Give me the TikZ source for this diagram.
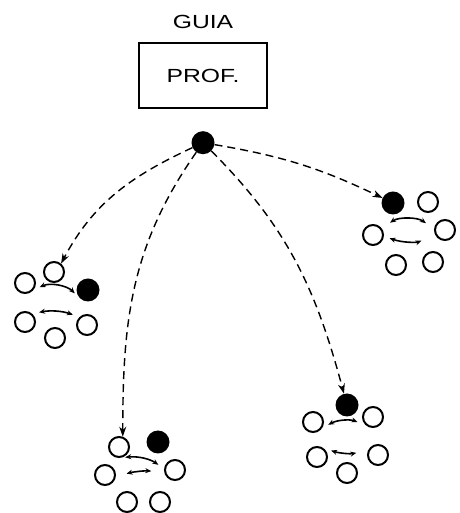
\documentclass[tikz,border=0pt]{standalone}
\usepackage{fontspec}
\newfontfamily\signfont[FakeStretch=1.3]{Liberation Sans}
\usepackage{tikz}
\usetikzlibrary{arrows.meta, positioning}

\begin{document}
\begin{tikzpicture}[
  x=1pt, y=1pt,
  board/.style={rectangle, draw, line width=2pt, minimum width=128pt, minimum height=65pt, font=\signfont\fontsize{19}{21}\selectfont},
  caption/.style={font=\signfont\fontsize{19}{21}\selectfont},
  pupil/.style={circle, draw, line width=2pt, minimum size=20pt, inner sep=0pt},
  leader/.style={circle, fill=black, minimum size=23pt, inner sep=0pt},
  link/.style={-{Stealth[length=10pt, width=7pt]}, line width=1.4pt, dash pattern=on 8pt off 5pt},
  talk/.style={{Stealth[length=6pt, width=5pt]}-{Stealth[length=6pt, width=5pt]}, line width=1.6pt}
]
  \useasboundingbox (0,0) rectangle (459,513);

  \node[board] (prof) at (203,437.5) {PROF.};
  \node[caption, above=10pt of prof] (guia) {GUIA};
  \node[leader, below=22pt of prof] (c) {};

  \node[leader] (a0) at (393,310) {};
  \node[pupil] (a1) at (428,311) {};
  \node[pupil] (a2) at (373,278) {};
  \node[pupil] (a3) at (445,283) {};
  \node[pupil] (a4) at (396,248) {};
  \node[pupil] (a5) at (433,251) {};

  \node[leader] (l0) at (88,223) {};
  \node[pupil] (l1) at (54,241) {};
  \node[pupil] (l2) at (25,230) {};
  \node[pupil] (l3) at (25,191) {};
  \node[pupil] (l4) at (87,188) {};
  \node[pupil] (l5) at (55,175) {};

  \node[leader] (m0) at (158,71) {};
  \node[pupil] (m1) at (119,66) {};
  \node[pupil] (m2) at (105,38) {};
  \node[pupil] (m3) at (175,43) {};
  \node[pupil] (m4) at (127,11) {};
  \node[pupil] (m5) at (160,11) {};

  \node[leader] (r0) at (347,108) {};
  \node[pupil] (r1) at (313,91) {};
  \node[pupil] (r2) at (373,96) {};
  \node[pupil] (r3) at (317,56) {};
  \node[pupil] (r4) at (378,58) {};
  \node[pupil] (r5) at (347,40) {};

  \draw[link] (c) to[bend left=8] (a0);
  \draw[link] (c) to[out=205, in=62] (l1.50);
  \draw[link] (c) to[out=235, in=90] (m1.70);
  \draw[link] (c) to[out=-45, in=105] (r0);

  \draw[talk, shorten <=10pt, shorten >=10pt] (a2.37) to[bend left=35] (a3.175);
  \draw[talk, shorten <=6pt, shorten >=15pt] (a2.-7) to[bend right=20] (a3.209);
  \draw[talk, shorten <=7pt, shorten >=7pt] (l2.-41) to[bend left=35] (l0.225);
  \draw[talk, shorten <=7pt, shorten >=7pt] (l3.49) to[bend left=15] (l4.133);
  \draw[talk, shorten <=3pt, shorten >=7pt] (m1.287) to[bend left=20] (m3.174);
  \draw[talk, shorten <=11pt, shorten >=13pt] (m2.-8) to[bend left=10] (m3.192);
  \draw[talk, shorten <=7pt, shorten >=9pt] (r1.-34) to[bend left=25] (r2.229);
  \draw[talk, shorten <=8pt, shorten >=12pt] (r3.54) to[bend right=15] (r4.155);
\end{tikzpicture}
\end{document}
